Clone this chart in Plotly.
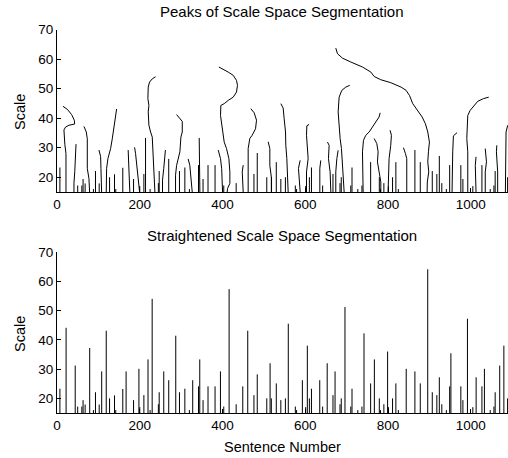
import plotly.graph_objects as go

# ---------------- data ----------------
BASE = 15
x_ticks = [0, 200, 400, 600, 800, 1000]
y_ticks = [20, 30, 40, 50, 60, 70]

stem_x = [7, 22, 44, 50, 60, 63, 68, 79, 88, 93,
          102, 108, 119, 127, 139, 142, 159, 167, 185, 198,
          200, 210, 220, 225, 230, 245, 247, 258, 270, 287,
          296, 309, 320, 328, 342, 345, 353, 365, 382, 395,
          403, 416, 433, 449, 461, 476, 484, 507, 515, 518,
          530, 541, 552, 559, 576, 579, 593, 601, 605, 610,
          615, 635, 642, 653, 667, 672, 684, 687, 696, 710,
          713, 727, 737, 742, 758, 767, 779, 782, 790, 799,
          801, 811, 819, 825, 844, 865, 878, 896, 907, 918,
          924, 930, 941, 949, 952, 976, 981, 992, 1005, 1013,
          1027, 1033, 1047, 1056, 1059, 1070, 1080, 1089]
stem_h = [23.3, 44.1, 31.2, 17.2, 17.2, 19.4, 17.9, 37.2, 16, 22.1,
          17.9, 29.2, 43.1, 20, 21, 16, 23.2, 29.2, 19.4, 30.1,
          17, 21.1, 33.3, 16, 54, 18, 22.1, 29.2, 26.2, 41.4,
          22.1, 23.3, 16, 26.2, 24.1, 33.3, 19.4, 24.1, 24.1, 29.2,
          17.2, 57.3, 18, 24.1, 43.1, 21.1, 28.2, 20, 32, 20,
          25.1, 19.4, 20, 45.5, 17.2, 16, 26.2, 17, 38, 20,
          23.3, 26.2, 17.2, 32, 21.1, 29.2, 18, 20, 51.2, 17.2,
          23.3, 16, 17.2, 42.2, 25.1, 33.3, 20, 16, 18, 36,
          17, 20, 25.1, 16, 30.1, 29.2, 25.1, 64.1, 22.1, 21.1,
          27.2, 18, 16, 24.1, 35.4, 24.1, 19.4, 47.2, 17, 27.2,
          24.1, 30.1, 16, 17.2, 22.1, 31.2, 38, 20]

# traced peak paths in scale space (keyed by the straightened stem position)
peak_paths = {
    22: ([21.7, 21.7, 19, 17.6, 16.8, 20.9, 28.9, 42.6, 41.8, 35.3, 24.9, 14.4],
         [15, 28, 31, 33, 36, 37, 37.6, 38, 39.3, 41.2, 43, 44]),
    44: ([41, 41, 43, 44, 45, 46], [15, 18, 22, 25, 28, 31.2]),
    79: ([78.8, 78.8, 77.2, 73.2, 72.4, 73.2, 70.8, 65.1],
         [15, 17, 19.5, 23, 28.6, 33, 35.3, 37.2]),
    108: ([107.8, 107.8, 106.2, 105.4, 101.4], [15, 20, 23, 27, 29.2]),
    119: ([119, 119, 119.9, 123.1, 129.5, 133.6, 137.6, 141.6, 144.1],
          [15, 20, 23, 26.3, 29.7, 33, 36.4, 39.8, 43.1]),
    167: ([176, 175, 174, 173, 172], [15, 19, 23, 27, 29.2]),
    198: ([199.6, 198, 193.9, 191.5, 189.9, 187.5], [15, 17.5, 21, 25, 28, 30.1]),
    220: ([214, 214], [15, 33.3]),
    230: ([236.6, 234.2, 234.2, 232.6, 230.2, 226.2, 222.1, 220.5, 222.1, 219.7, 220.5, 223.7, 230.2, 238.2],
          [15, 21.8, 26.3, 30.8, 33.6, 35.3, 37.6, 42.1, 44.3, 46.6, 50.5, 52.2, 53.3, 54]),
    258: ([255, 255, 258, 261, 262], [15, 19, 23, 27, 29.2]),
    287: ([286.5, 286.5, 289, 293, 297, 299.5, 302.7, 302.7, 297, 289],
          [15, 20.7, 24, 26.3, 28.6, 33.6, 35.3, 38.9, 40, 41.2]),
    328: ([326.8, 323.4, 321, 317], [15, 19.5, 24, 26.2]),
    345: ([345.3, 345.3, 344, 343.7], [15, 26.3, 29.7, 33.3]),
    395: ([400.1, 398, 395.2, 389.6], [15, 22.9, 26.3, 29.2]),
    416: ([411.3, 412.2, 417.8, 417.8, 415.4, 409.7, 404.1, 401.6, 397.6, 395.2, 396,
           404.1, 413.7, 425.8, 433.8, 436.2, 433.8, 425.8, 413.7, 401.6, 391.2],
          [15, 16.2, 17.9, 21.8, 26.3, 29.7, 31.9, 34.2, 37.6, 40.9, 44.3,
           44.9, 46, 47.1, 48.8, 51.1, 52.8, 54.5, 55.6, 56.5, 57.3]),
    449: ([450, 447.7, 450], [15, 21.8, 24.1]),
    461: ([462, 462, 460.4, 462, 466, 471.7, 479.8, 482.2, 476.5, 468.5],
          [15, 21.8, 25.2, 29.7, 33.1, 34.2, 36.4, 39.3, 41.8, 43.2]),
    515: ([518.5, 518.5, 514.4, 514.4, 510.4], [15, 19.5, 24, 29.7, 32]),
    559: ([558.7, 557, 555.5, 553, 552.3, 549, 546.6, 541],
          [15, 22, 26.3, 30.8, 35.3, 39.8, 43.4, 44.9]),
    593: ([587.7, 585.2, 583.6, 587.7], [15, 19.5, 23, 25.7]),
    605: ([603, 603, 607, 605.4, 603, 603.8, 609.4], [15, 21.8, 26.3, 30.8, 34.2, 37.4, 37.9]),
    635: ([635.2, 635.2, 637.6], [15, 23, 25.7]),
    653: ([661.8, 660.1, 656.1, 657.7, 653.7], [15, 21.8, 26.3, 30.8, 31.9]),
    672: ([673.8, 673.8, 676.3, 679.5], [15, 21.8, 26.3, 29.1]),
    696: ([694, 692.4, 690, 687.5, 684.3, 681.9, 679.5, 681.9, 688.3, 698, 707.6],
          [15, 19.5, 24, 29.7, 33.1, 37.6, 42.1, 47.1, 49.4, 50.5, 51.1]),
    742: ([739.9, 739.9, 739.9, 738.3, 740.7, 746.3, 754.4, 762.4, 770.5, 778.5, 781],
          [15, 19.5, 24, 28.6, 32.5, 34.2, 35.3, 37, 38.7, 40.4, 41.8]),
    767: ([782.6, 782.6, 778.5, 774.5, 776.1, 772.9, 766.5],
          [15, 18.4, 21.8, 25.2, 28.6, 31.4, 33.1]),
    799: ([800.2, 802.6, 802.6, 806.6, 808.2, 805], [15, 21.8, 26.3, 30.8, 34.2, 35.9]),
    844: ([845.3, 845.3, 842.1, 837.3], [15, 26.3, 28, 30]),
    896: ([894.5, 895, 898.5, 896.1, 897.7, 900.1, 896.1, 890.4, 882.4, 871.9, 859.8,
           851.8, 843.7, 831.6, 819.6, 806.7, 782.6, 766.5, 758.4, 738.3, 710.1, 690,
           677.9, 673.8],
          [15, 18.4, 21.8, 25.2, 28.6, 31.9, 35.3, 38.1, 40.4, 42.6, 44.9,
           47.7, 49.4, 50.5, 51.3, 52, 53, 54.1, 55.6, 57.3, 59, 60.3,
           61.8, 63.7]),
    952: ([954.8, 954.8, 956.4, 958.1, 966.9], [15, 23.5, 28.6, 34, 35.1]),
    992: ([992.8, 992.8, 992.8, 990.4, 992.8, 992.8, 998.4, 1008.9, 1016.9, 1030.6, 1043.4],
          [15, 21.8, 28.6, 33.1, 37.6, 40.9, 42.6, 44.3, 45.7, 46.6, 47.1]),
    1013: ([1012.7, 1011, 1012.7], [15, 24, 26.9]),
    1033: ([1035, 1035, 1038, 1035], [15, 21.8, 25.2, 29.7]),
    1070: ([1065, 1065, 1062, 1063], [15, 21.8, 28.6, 30.8]),
    1080: ([1083.7, 1083.7, 1085.3, 1089.3], [15, 25, 35.3, 37.6]),
}

titles = ["Peaks of Scale Space Segmentation", "Straightened Scale Space Segmentation"]
x_label = "Sentence Number"
y_label = "Scale"

# ---------------- build ----------------
top_x, top_y = [], []
bot_x, bot_y = [], []
for sx, sh in zip(stem_x, stem_h):
    bot_x += [sx, sx, None]
    bot_y += [BASE, sh, None]
    if sx in peak_paths:
        px, py = peak_paths[sx]
        top_x += list(px) + [None]
        top_y += list(py) + [None]
    else:
        top_x += [sx, sx, None]
        top_y += [BASE, sh, None]

FONT = "Liberation Sans, Arial, sans-serif"
W, H = 508, 458

fig = go.Figure()
line = dict(color="black", width=1)
fig.add_trace(go.Scatter(x=top_x, y=top_y, mode="lines", line=line,
                         xaxis="x", yaxis="y", hoverinfo="skip", showlegend=False))
fig.add_trace(go.Scatter(x=bot_x, y=bot_y, mode="lines", line=line,
                         xaxis="x2", yaxis="y2", hoverinfo="skip", showlegend=False))

def pfy(px):  # pixel from top -> paper y
    return 1 - px / H

axis_common = dict(showline=True, linecolor="black", linewidth=1, mirror=False,
                   ticks="inside", ticklen=4, tickcolor="black", showgrid=False,
                   zeroline=False, automargin=False,
                   tickfont=dict(family=FONT, size=13.5, color="black"))

fig.update_layout(
    template="none",
    width=W, height=H,
    margin=dict(l=57, r=0, t=0, b=0, pad=0, autoexpand=False),
    paper_bgcolor="white", plot_bgcolor="white",
    xaxis=dict(domain=[0, 1], anchor="y", range=[0, 1090], tickvals=x_ticks, **axis_common),
    yaxis=dict(domain=[pfy(192), pfy(29.5)], anchor="x", range=[BASE, 70], tickvals=y_ticks, **axis_common),
    xaxis2=dict(domain=[0, 1], anchor="y2", range=[0, 1090], tickvals=x_ticks, **axis_common),
    yaxis2=dict(domain=[pfy(413), pfy(252)], anchor="x2", range=[BASE, 70], tickvals=y_ticks, **axis_common),
)

ann_font = dict(family=FONT, size=14.5, color="black")
title_font = dict(family=FONT, size=15, color="black")
cx = (282.4 - 57) / (W - 57)
fig.add_annotation(text=titles[0], xref="paper", yref="paper", x=cx, y=pfy(12),
                   xanchor="center", yanchor="middle", showarrow=False, font=title_font)
fig.add_annotation(text=titles[1], xref="paper", yref="paper", x=cx, y=pfy(235),
                   xanchor="center", yanchor="middle", showarrow=False, font=title_font)
fig.add_annotation(text=x_label, xref="paper", yref="paper", x=cx, y=pfy(446.7),
                   xanchor="center", yanchor="middle", showarrow=False, font=ann_font)
lx = (20 - 57) / (W - 57)
fig.add_annotation(text=y_label, xref="paper", yref="paper", x=lx, y=pfy(112),
                   xanchor="center", yanchor="middle", textangle=-90, showarrow=False, font=ann_font)
fig.add_annotation(text=y_label, xref="paper", yref="paper", x=lx, y=pfy(334),
                   xanchor="center", yanchor="middle", textangle=-90, showarrow=False, font=ann_font)

fig.write_html("out.html")
